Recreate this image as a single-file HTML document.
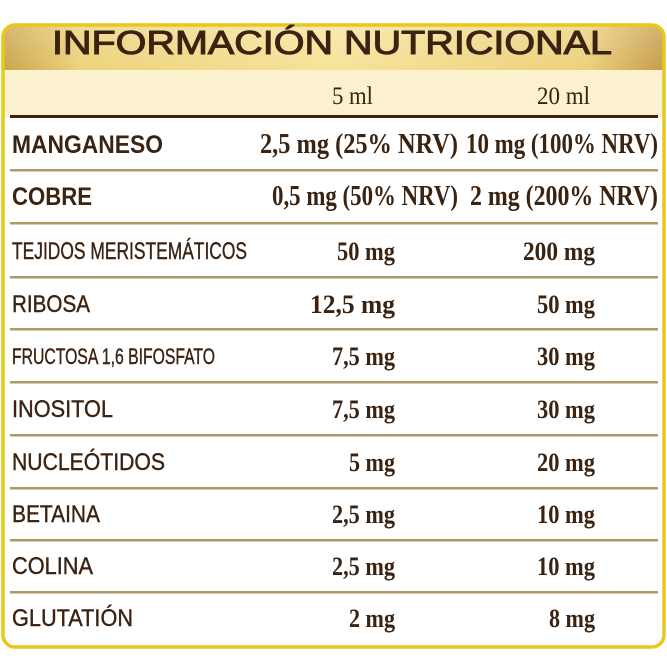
<!DOCTYPE html>
<html><head><meta charset="utf-8"><style>
html,body{margin:0;padding:0;background:#fff;width:667px;height:668px;overflow:hidden}
svg text{font-family:"Liberation Sans",sans-serif;fill:#3b2312}
svg .s{font-family:"Liberation Serif",serif}
</style></head><body>
<svg width="667" height="668" viewBox="0 0 667 668" xmlns="http://www.w3.org/2000/svg">
<defs>
<linearGradient id="g" x1="0" x2="1" y1="0" y2="0">
<stop offset="0" stop-color="#c9a24a"/><stop offset="0.12" stop-color="#ecd27a"/>
<stop offset="0.5" stop-color="#f6e39a"/><stop offset="0.88" stop-color="#ecd07a"/><stop offset="1" stop-color="#c49a48"/>
</linearGradient>
<linearGradient id="gv" x1="0" x2="0" y1="0" y2="1">
<stop offset="0" stop-color="#fff" stop-opacity="0.25"/><stop offset="1" stop-color="#fff" stop-opacity="0"/>
</linearGradient>
<clipPath id="c"><rect x="3" y="25" width="661" height="622" rx="12"/></clipPath>
</defs>
<rect x="3" y="25" width="661" height="622" rx="12" fill="#fff"/>
<g clip-path="url(#c)">
<rect x="0" y="20" width="667" height="50" fill="url(#g)"/>
<rect x="0" y="20" width="667" height="50" fill="url(#gv)"/>
<rect x="0" y="70" width="667" height="47" fill="#fcf2d0"/>
</g>
<rect x="3" y="25" width="661" height="622" rx="12" fill="none" stroke="#e8c81a" stroke-width="3.5"/>
<rect x="10" y="115" width="648" height="3" fill="#3a2312"/>
<g fill="#ab9a66">
<rect x="10" y="169" width="648" height="2.5"/><rect x="10" y="222" width="648" height="2.5"/>
<rect x="10" y="276" width="648" height="2.5"/><rect x="10" y="328" width="648" height="2.5"/>
<rect x="10" y="381" width="648" height="2.5"/><rect x="10" y="434" width="648" height="2.5"/>
<rect x="10" y="487" width="648" height="2.5"/><rect x="10" y="539" width="648" height="2.5"/>
<rect x="10" y="591" width="648" height="2.5"/>
</g>
<text x="52" y="54" font-size="33" stroke="#3b2312" stroke-width="1" textLength="560" lengthAdjust="spacingAndGlyphs">INFORMACIÓN NUTRICIONAL</text>
<text class="s" x="332" y="104" font-size="25" textLength="41" lengthAdjust="spacingAndGlyphs">5 ml</text>
<text class="s" x="537" y="104" font-size="25" textLength="53" lengthAdjust="spacingAndGlyphs">20 ml</text>
<g font-weight="bold" font-size="25">
<text x="12" y="153" textLength="151" lengthAdjust="spacingAndGlyphs">MANGANESO</text>
<text x="12" y="205" textLength="80" lengthAdjust="spacingAndGlyphs">COBRE</text>
</g>
<g font-weight="bold" font-size="28">
<text class="s" x="260" y="153" textLength="198" lengthAdjust="spacingAndGlyphs">2,5 mg (25% NRV)</text>
<text class="s" x="466" y="153" textLength="192" lengthAdjust="spacingAndGlyphs">10 mg (100% NRV)</text>
<text class="s" x="272" y="205" textLength="186" lengthAdjust="spacingAndGlyphs">0,5 mg (50% NRV)</text>
<text class="s" x="470" y="205" textLength="188" lengthAdjust="spacingAndGlyphs">2 mg (200% NRV)</text>
</g>
<g font-size="24" stroke="#3b2312" stroke-width="0.4">
<text x="12" y="259" textLength="235" lengthAdjust="spacingAndGlyphs">TEJIDOS MERISTEMÁTICOS</text>
<text x="12" y="312" textLength="78" lengthAdjust="spacingAndGlyphs">RIBOSA</text>
<text x="12" y="364" font-size="22" textLength="203" lengthAdjust="spacingAndGlyphs">FRUCTOSA 1,6 BIFOSFATO</text>
<text x="12" y="417" textLength="101" lengthAdjust="spacingAndGlyphs">INOSITOL</text>
<text x="12" y="470" textLength="153" lengthAdjust="spacingAndGlyphs">NUCLEÓTIDOS</text>
<text x="12" y="522" textLength="88" lengthAdjust="spacingAndGlyphs">BETAINA</text>
<text x="12" y="574" textLength="81" lengthAdjust="spacingAndGlyphs">COLINA</text>
<text x="12" y="626" textLength="121" lengthAdjust="spacingAndGlyphs">GLUTATIÓN</text>
</g>
<g font-size="26" font-weight="bold">
<text class="s" x="337" y="260" textLength="58" lengthAdjust="spacingAndGlyphs">50 mg</text>
<text class="s" x="523" y="260" textLength="72" lengthAdjust="spacingAndGlyphs">200 mg</text>
<text class="s" x="310" y="313" textLength="85" lengthAdjust="spacingAndGlyphs">12,5 mg</text>
<text class="s" x="537" y="313" textLength="58" lengthAdjust="spacingAndGlyphs">50 mg</text>
<text class="s" x="332" y="365" textLength="63" lengthAdjust="spacingAndGlyphs">7,5 mg</text>
<text class="s" x="537" y="365" textLength="58" lengthAdjust="spacingAndGlyphs">30 mg</text>
<text class="s" x="332" y="418" textLength="63" lengthAdjust="spacingAndGlyphs">7,5 mg</text>
<text class="s" x="537" y="418" textLength="58" lengthAdjust="spacingAndGlyphs">30 mg</text>
<text class="s" x="349" y="471" textLength="46" lengthAdjust="spacingAndGlyphs">5 mg</text>
<text class="s" x="537" y="471" textLength="58" lengthAdjust="spacingAndGlyphs">20 mg</text>
<text class="s" x="332" y="523" textLength="63" lengthAdjust="spacingAndGlyphs">2,5 mg</text>
<text class="s" x="537" y="523" textLength="58" lengthAdjust="spacingAndGlyphs">10 mg</text>
<text class="s" x="332" y="575" textLength="63" lengthAdjust="spacingAndGlyphs">2,5 mg</text>
<text class="s" x="537" y="575" textLength="58" lengthAdjust="spacingAndGlyphs">10 mg</text>
<text class="s" x="349" y="627" textLength="46" lengthAdjust="spacingAndGlyphs">2 mg</text>
<text class="s" x="549" y="627" textLength="46" lengthAdjust="spacingAndGlyphs">8 mg</text>
</g>
</svg>
</body></html>
